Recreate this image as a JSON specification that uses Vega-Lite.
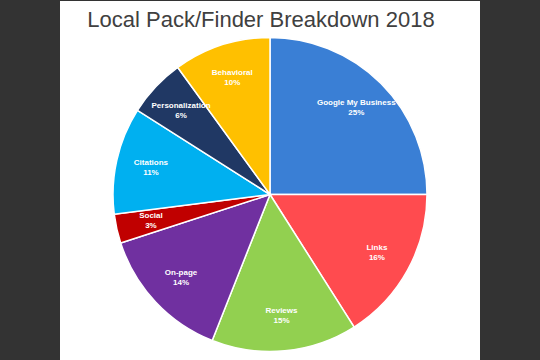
{
  "$schema": "https://vega.github.io/schema/vega-lite/v6.json",
  "width": 420,
  "height": 387,
  "autosize": {"type": "none"},
  "padding": {"left": 60, "right": 60, "top": 1, "bottom": 0},
  "background": "#333333",
  "view": {"fill": "#ffffff", "stroke": null},
  "title": {
    "text": "Local Pack/Finder Breakdown 2018",
    "font": "Liberation Sans",
    "fontSize": 22,
    "fontWeight": "normal",
    "color": "#404040",
    "anchor": "middle",
    "frame": "group",
    "baseline": "alphabetic",
    "offset": -25,
    "dy": 23,
    "dx": -9
  },
  "data": {
    "values": [
      {"category": "Google My Business", "share": 0.25, "order": 1},
      {"category": "Links", "share": 0.16, "order": 2},
      {"category": "Reviews", "share": 0.15, "order": 3},
      {"category": "On-page", "share": 0.14, "order": 4},
      {"category": "Social", "share": 0.03, "order": 5},
      {"category": "Citations", "share": 0.11, "order": 6},
      {"category": "Personalization", "share": 0.06, "order": 7},
      {"category": "Behavioral", "share": 0.10, "order": 8}
    ]
  },
  "encoding": {
    "theta": {"field": "share", "type": "quantitative", "stack": true},
    "order": {"field": "order", "type": "quantitative"}
  },
  "layer": [
    {
      "mark": {"type": "arc", "outerRadius": 157, "stroke": "#ffffff", "strokeWidth": 1.5},
      "encoding": {
        "color": {
          "field": "category",
          "type": "nominal",
          "legend": null,
          "scale": {
            "domain": ["Google My Business", "Links", "Reviews", "On-page", "Social", "Citations", "Personalization", "Behavioral"],
            "range": ["#3a7fd5", "#ff4b4f", "#92d050", "#7030a0", "#c00000", "#00b0f0", "#203864", "#ffc000"]
          }
        }
      }
    },
    {
      "mark": {"type": "text", "radius": 122, "dy": -5, "font": "Liberation Sans", "fontSize": 8, "fontWeight": "bold", "color": "#ffffff"},
      "encoding": {"text": {"field": "category", "type": "nominal"}}
    },
    {
      "mark": {"type": "text", "radius": 122, "dy": 5, "font": "Liberation Sans", "fontSize": 8, "fontWeight": "bold", "color": "#ffffff"},
      "encoding": {"text": {"field": "share", "type": "quantitative", "format": ".0%"}}
    }
  ]
}
